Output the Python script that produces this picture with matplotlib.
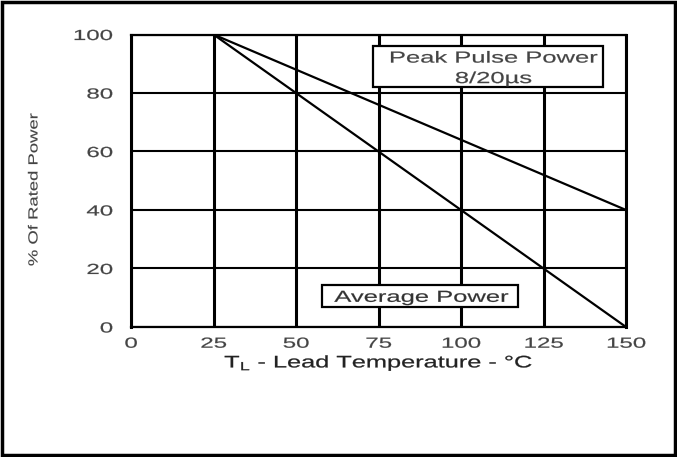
import matplotlib
matplotlib.use("Agg")
import matplotlib.pyplot as plt
from matplotlib.patches import Rectangle
from matplotlib.patheffects import AbstractPathEffect
from matplotlib.transforms import Affine2D

temps = [25, 150]
peak_pulse = [100, 40]
average = [100, 0]
x_ticks = [0, 25, 50, 75, 100, 125, 150]
y_ticks = [0, 20, 40, 60, 80, 100]

plt.rcParams['font.family'] = ['Liberation Sans', 'DejaVu Sans']


class Stretch(AbstractPathEffect):
    """Stretch glyphs along the text direction (the reference is wide-set)."""
    def __init__(self, sx=1.0, anchor='center', stroke=0.15):
        super().__init__()
        self.sx = sx
        self.anchor = anchor
        self.stroke = stroke

    def draw_path(self, renderer, gc, tpath, affine, rgbFace=None):
        v = tpath.vertices
        if len(v):
            x0, x1 = v[:, 0].min(), v[:, 0].max()
        else:
            x0 = x1 = 0.0
        cx = {'center': (x0 + x1) / 2, 'right': x1, 'left': x0}[self.anchor]
        pre = Affine2D().translate(-cx, 0).scale(self.sx, 1).translate(cx, 0)
        gc0 = renderer.new_gc()
        gc0.copy_properties(gc)
        if rgbFace is not None and self.stroke > 0:
            gc0.set_foreground(rgbFace)
            gc0.set_linewidth(self.stroke)
        renderer.draw_path(gc0, tpath, pre + affine, rgbFace)
        gc0.restore()


fig = plt.figure(figsize=(6.77, 4.57), dpi=100)
ax = fig.add_axes([0.1935, 0.2845, 0.7312, 0.64])

ax.plot(temps, peak_pulse, color='black', lw=1.6, solid_capstyle='butt')
ax.plot(temps, average, color='black', lw=1.6, solid_capstyle='butt')

ax.set_xlim(0, 150)
ax.set_ylim(0, 100)
ax.set_xticks(x_ticks)
ax.set_yticks(y_ticks)
ax.grid(True, axis='x', color='black', lw=2.2)
ax.grid(True, axis='y', color='black', lw=1.5)
ax.set_axisbelow(True)
ax.spines['left'].set_linewidth(2.2)
ax.spines['right'].set_linewidth(2.2)
ax.spines['top'].set_linewidth(1.6)
ax.spines['bottom'].set_linewidth(1.6)
ax.tick_params(length=0, labelsize=10.5, labelcolor='#444444')
ax.tick_params(axis='x', pad=7)
ax.tick_params(axis='y', pad=13)
for lab in ax.get_xticklabels():
    lab.set_path_effects([Stretch(1.65, 'center')])
for lab in ax.get_yticklabels():
    lab.set_path_effects([Stretch(1.65, 'right')])

ax.text(-0.195, 0.47, '% Of Rated Power', transform=ax.transAxes, rotation=90,
        ha='center', va='center', fontsize=9.5, color='#444444',
        path_effects=[Stretch(1.4, 'center', 0.1)])

ax.set_xlabel(r'T$_\mathregular{L}$ - Lead Temperature - °C', fontsize=12,
              color='#222222', labelpad=2, path_effects=[Stretch(1.52, 'center', 0.2)])

box1 = Rectangle((73.3, 81.9), 69.7, 14.3, facecolor='white', edgecolor='black', lw=1.6, zorder=3)
ax.add_patch(box1)
ax.text(109.8, 90.4, 'Peak Pulse Power', ha='center', va='baseline',
        fontsize=11.5, color='#444444', zorder=4, path_effects=[Stretch(1.6, 'center')])
ax.text(109.8, 83.4, '8/20µs', ha='center', va='baseline',
        fontsize=11.5, color='#444444', zorder=4, path_effects=[Stretch(1.6, 'center')])

box2 = Rectangle((57.9, 6.8), 59.4, 7.5, facecolor='white', edgecolor='black', lw=1.6, zorder=3)
ax.add_patch(box2)
ax.text(88.0, 8.6, 'Average Power', ha='center', va='baseline',
        fontsize=11.5, color='#333333', zorder=4, path_effects=[Stretch(1.6, 'center')])

fig.patches.append(Rectangle((0.003, 0.004), 0.994, 0.992, transform=fig.transFigure,
                             fill=False, edgecolor='black', lw=2.5))

fig.savefig('out.png', dpi=100)
